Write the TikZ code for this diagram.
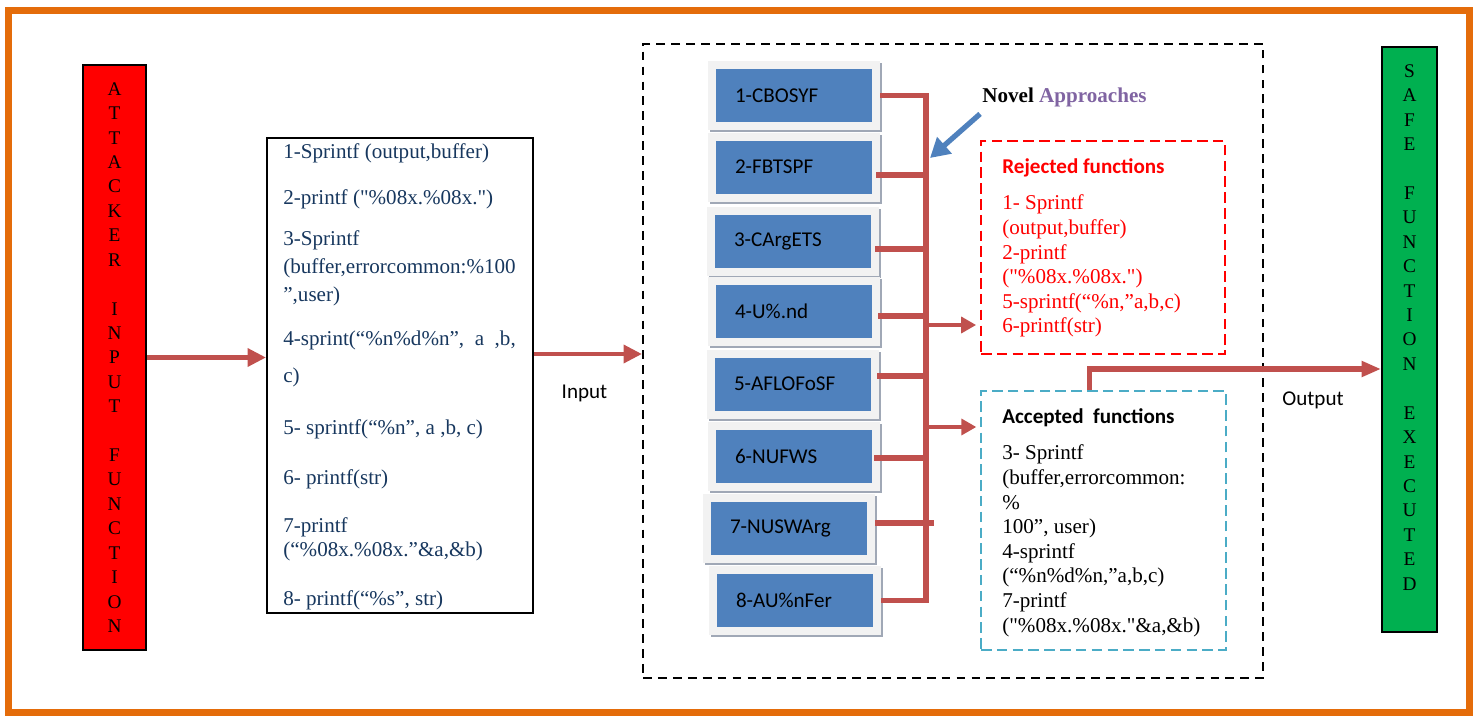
\documentclass[tikz,border=0pt]{standalone}
\usepackage{fontspec}
\setmainfont{Liberation Serif}
\setsansfont{Carlito}
\usetikzlibrary{arrows.meta,positioning,calc}
\newdimen\pxu
\pxu=0.02cm
\newcommand{\dq}{\textquotedbl}
\definecolor{frameOrange}{RGB}{228,108,10}
\definecolor{arrRed}{RGB}{192,80,77}
\definecolor{attRed}{RGB}{255,0,0}
\definecolor{boxBlue}{RGB}{79,129,189}
\definecolor{listNavy}{RGB}{23,55,94}
\definecolor{apPurple}{RGB}{128,100,162}
\definecolor{accCyan}{RGB}{75,172,198}
\definecolor{safeGreen}{RGB}{0,176,80}
\definecolor{frameGray}{RGB}{242,242,242}
\definecolor{shadeGray}{RGB}{160,168,182}
\tikzset{
  attbox/.style={draw=black, line width=1.1pt, fill=attRed, minimum width=63\pxu, minimum height=585\pxu,
                 inner sep=0pt, align=center, font=\fontsize{11}{13.9}\selectfont},
  safebox/.style={attbox, fill=safeGreen, minimum width=55\pxu},
  listbox/.style={draw=black, line width=1.1pt, minimum width=266\pxu, minimum height=475\pxu},
  plaintext/.style={inner sep=0pt, align=left, font=\fontsize{12}{14}\selectfont},
  listtext/.style={plaintext, text=listNavy},
  fnbox/.style={fill=boxBlue, minimum width=156\pxu, minimum height=53\pxu, text width=118\pxu,
                inner xsep=19\pxu, align=left, font=\sffamily\fontsize{12}{14}\selectfont,
                preaction={draw=shadeGray, line width=16\pxu, transform canvas={shift={(2,2)}}},
                preaction={draw=frameGray, line width=16\pxu}},
  corebox/.style={draw=black, dash pattern=on 5pt off 3.5pt, line width=1.1pt,
                  minimum width=620\pxu, minimum height=634\pxu},
  rejbox/.style={draw=red, dash pattern=on 6pt off 3pt, line width=1.5pt,
                 minimum width=244\pxu, minimum height=213\pxu},
  accbox/.style={rejbox, draw=accCyan, line width=1.3pt, minimum width=245\pxu, minimum height=259\pxu},
  bigarrow/.style={-{Triangle[length=10.5pt, width=10pt]}, line width=2.8pt, draw=arrRed},
  smallarrow/.style={-{Triangle[length=8.5pt, width=9pt]}, line width=2.2pt, draw=arrRed, shorten >=2pt},
  outarrow/.style={-{Triangle[length=11pt, width=8.5pt]}, line width=3pt, draw=arrRed},
  bus/.style={line width=3.4pt, draw=arrRed},
  bluearrow/.style={-{Triangle[length=11pt, width=12pt]}, line width=3pt, draw=boxBlue},
  lbl/.style={font=\sffamily\fontsize{12}{14}\selectfont, inner sep=0pt}
}
\begin{document}
\begin{tikzpicture}[x=\pxu, y=-\pxu]
\useasboundingbox (0,0) rectangle (1478,717);
\draw[frameOrange, line width=7\pxu] (8,10) rectangle (1469,712);

\node[attbox] (att) at (114.5,357.5) {A\\T\\T\\A\\C\\K\\E\\R\\~\\I\\N\\P\\U\\T\\~\\F\\U\\N\\C\\T\\I\\O\\N};
\node[listbox] (list) at (400,375.5) {};
\node[listtext, anchor=north west] (listtxt) at (283,140.5) {\strut 1-Sprintf (output,buffer)\\[12.6pt]
2-printf (\dq\%08x.\%08x.\dq)\\[9.2pt]
3-Sprintf\\[1.9pt]
(buffer,errorcommon:\%100\\[1.9pt]
”,user)\\[10.9pt]
4-sprint(“\%n\%d\%n”, ~a ~,b,\\[7.5pt]
c)\\[15.5pt]
5- sprintf(“\%n”, a ,b, c)\\[14.3pt]
6- printf(str)\\[13.2pt]
7-printf\\
(“\%08x.\%08x.”\&a,\&b)\\[13.8pt]
8- printf(“\%s”, str)};
\node[lbl] (inlbl) at (584.5,393) {Input};

\node[corebox] (core) at (953,361) {};
\node[fnbox] (fn1) at (794,95.5) {1-CBOSYF};
\node[fnbox] (fn2) at (794,167) {2-FBTSPF};
\node[fnbox] (fn3) at (793,241) {3-CArgETS};
\node[fnbox] (fn4) at (794,311.5) {4-U\%.nd};
\node[fnbox] (fn5) at (793,384) {5-AFLOFoSF};
\node[fnbox] (fn6) at (794,456) {6-NUFWS};
\node[fnbox] (fn7) at (789,528.5) {7-NUSWArg};
\node[fnbox] (fn8) at (795,600.5) {8-AU\%nFer};

\node[font=\bfseries\fontsize{12}{14}\selectfont, inner sep=0pt] (novel) at (1064.5,97) {Novel \textcolor{apPurple}{Approaches}};
\node[rejbox] (rej) at (1103,247.5) {};
\node[plaintext, text=red, anchor=north west] (rejtxt) at (1002,155.5) {\strut\textsf{\textbf{Rejected functions}}\\[7pt]
1- Sprintf\\
(output,buffer)\\
2-printf\\
(\dq\%08x.\%08x.\dq)\\
5-sprintf(“\%n,”a,b,c)\\
6-printf(str)};
\node[accbox] (acc) at (1103.5,520.5) {};
\node[plaintext, anchor=north west] (acctxt) at (1002,405.5) {\strut\textsf{\textbf{Accepted~ functions}}\\[7pt]
3- Sprintf\\
(buffer,errorcommon:\\
\%\\
100”, user)\\
4-sprintf\\
(“\%n\%d\%n,”a,b,c)\\
7-printf\\
(\dq\%08x.\%08x.\dq\&a,\&b)};

\node[safebox] (safe) at (1409.5,339.5) {S\\A\\F\\E\\~\\F\\U\\N\\C\\T\\I\\O\\N\\~\\E\\X\\E\\C\\U\\T\\E\\D\\~};
\node[lbl] (outlbl) at (1313,400) {Output};

\draw[bigarrow] (att.east) -- (att.east -| list.west);
\coordinate (inp) at ([yshift=21.5\pxu]list.east);
\draw[bigarrow] (inp) -- (inp -| core.west);

\coordinate (bus) at (926,350);
\draw[bus] ([xshift=8\pxu]fn1.east) -| (bus) |- ([xshift=8\pxu]fn8.east);
\draw[bus] ([xshift=4\pxu,yshift=-8\pxu]fn2.east) -| (bus);
\draw[bus] ([xshift=4\pxu,yshift=-8\pxu]fn3.east) -| (bus);
\draw[bus] ([xshift=6\pxu,yshift=-4.5\pxu]fn4.east) -| (bus);
\draw[bus] ([xshift=6\pxu,yshift=8\pxu]fn5.east) -| (bus);
\draw[bus] ([xshift=2\pxu,yshift=-2\pxu]fn6.east) -| (bus);
\draw[bus] ([xshift=8\pxu,yshift=5.5\pxu]fn7.east) -- ([xshift=8\pxu,yshift=5.5\pxu]fn7.east -| bus);

\coordinate (rejtap) at (926,325);
\coordinate (acctap) at (926,427);
\draw[smallarrow] (rejtap) -- (rejtap -| rej.west);
\draw[smallarrow] (acctap) -- (acctap -| acc.west);

\coordinate (novtip) at (930,158);
\draw[bluearrow] ([shift={(-2,7)}]novel.south west) -- (novtip);

\draw[outarrow] ([xshift=-14\pxu]acc.north) |- ([yshift=-29.5\pxu]safe.west);
\end{tikzpicture}
\end{document}
